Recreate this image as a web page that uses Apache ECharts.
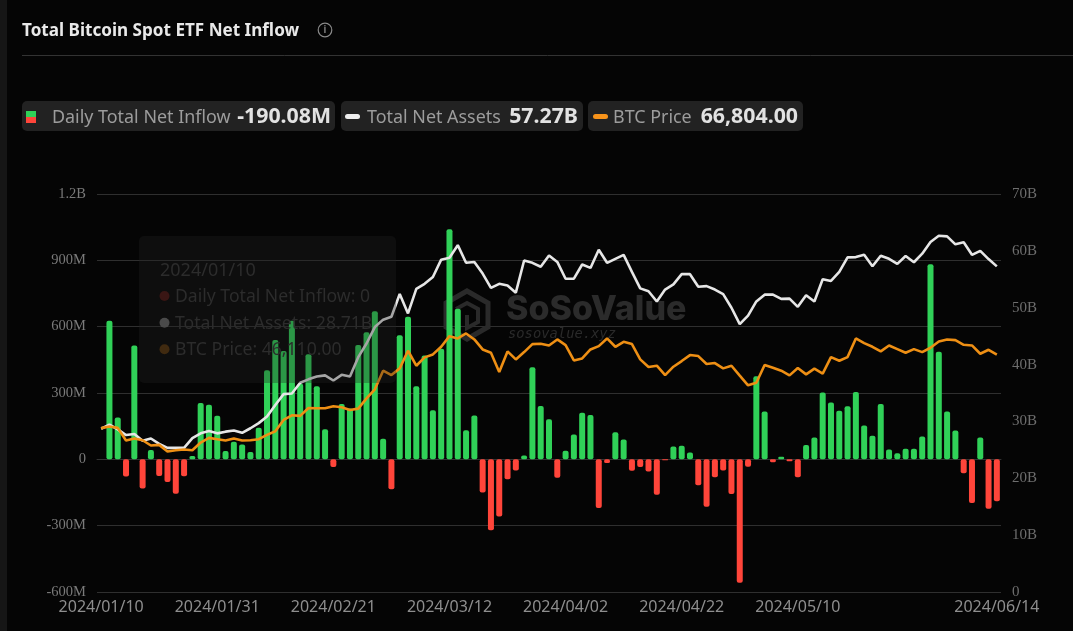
<!DOCTYPE html>
<html><head><meta charset="utf-8">
<style>html,body{margin:0;padding:0;background:#050505;overflow:hidden}#c{width:1073px;height:631px}</style>
<script src="https://cdn.jsdelivr.net/npm/echarts@6/dist/echarts.min.js"></script>
</head><body><div id="c"></div>
<script>
const dates = [
'2024/01/10','2024/01/11','2024/01/12','2024/01/16','2024/01/17','2024/01/18','2024/01/19','2024/01/22','2024/01/23','2024/01/24','2024/01/25','2024/01/26','2024/01/29','2024/01/30','2024/01/31',
'2024/02/01','2024/02/02','2024/02/05','2024/02/06','2024/02/07','2024/02/08','2024/02/09','2024/02/12','2024/02/13','2024/02/14','2024/02/15','2024/02/16','2024/02/20','2024/02/21','2024/02/22','2024/02/23','2024/02/26','2024/02/27','2024/02/28','2024/02/29',
'2024/03/01','2024/03/04','2024/03/05','2024/03/06','2024/03/07','2024/03/08','2024/03/11','2024/03/12','2024/03/13','2024/03/14','2024/03/15','2024/03/18','2024/03/19','2024/03/20','2024/03/21','2024/03/22','2024/03/25','2024/03/26','2024/03/27','2024/03/28',
'2024/04/01','2024/04/02','2024/04/03','2024/04/04','2024/04/05','2024/04/08','2024/04/09','2024/04/10','2024/04/11','2024/04/12','2024/04/15','2024/04/16','2024/04/17','2024/04/18','2024/04/19','2024/04/22','2024/04/23','2024/04/24','2024/04/25','2024/04/26','2024/04/29','2024/04/30',
'2024/05/01','2024/05/02','2024/05/03','2024/05/06','2024/05/07','2024/05/08','2024/05/09','2024/05/10','2024/05/13','2024/05/14','2024/05/15','2024/05/16','2024/05/17','2024/05/20','2024/05/21','2024/05/22','2024/05/23','2024/05/24','2024/05/28','2024/05/29','2024/05/30','2024/05/31',
'2024/06/03','2024/06/04','2024/06/05','2024/06/06','2024/06/07','2024/06/10','2024/06/11','2024/06/12','2024/06/13','2024/06/14'];

const netInflowM = [
0,627,189,-78,515,-132,42,-75,-103,-156,-76,15,255,247,197,38,80,67,33,143,403,540,490,627,342,475,331,136,-35,250,230,517,575,670,93,-135,561,645,331,470,222,500,1041,681,132,198,
-150,-321,-258,-90,-50,17,417,241,181,-83,39,112,211,201,-220,-17,123,90,-52,-35,-55,-160,-4,58,61,31,-117,-214,-81,-50,-157,-558,-33,376,216,-13,12,-9,-81,65,99,302,257,220,240,305,153,107,250,45,28,48,48,103,882,486,216,130,-63,-197,99,-224,-190.08];

const netAssetsB = [
28.71,29.44,28.6,27.6,27.8,26.6,27.0,26.05,25.35,25.35,25.35,27.05,27.9,28.3,27.9,28.2,28.4,28.0,28.8,29.7,30.85,32.9,34.8,34.9,36.8,37.4,37.9,38.1,37.2,38.2,37.9,41.3,43.7,46.6,47.9,48.4,52.4,49.0,53.3,54.2,55.4,58.45,58.8,61,57.9,58.05,
56,53.5,54.2,53.9,52.65,58.3,57.9,57.2,59.2,58.05,55.1,55.1,57.6,57,60.2,57.9,58.6,59.3,56.3,53.4,52.9,51.1,53.2,54.1,55.9,55.9,53.7,53.8,53.2,52.4,50.0,47.1,48.6,51.1,52.3,52.3,51.55,51.6,50.15,52.2,51.1,55,54.7,56.3,58.85,58.9,59.3,57.3,59.15,58.6,57.7,59.1,58,59.5,61.55,62.65,62.55,61.15,61.5,59.3,60,58.55,57.27];

const btcPrice = [
46110,46550,46180,42620,43180,42710,41220,41400,39530,39910,40090,39900,42060,43370,43000,42620,43180,42620,42710,43000,44210,45240,48420,49730,49550,51790,51700,51700,52260,51980,51230,51600,54500,57030,62270,61050,62930,67890,63680,66020,66860,69010,72000,71350,72750,71070,
68260,67320,61900,67700,65450,67510,69760,69850,69380,71070,69480,65170,65730,68260,69200,71350,69010,70410,69760,65450,63300,63680,61050,63400,64990,66670,66390,64150,64430,62930,63680,60870,58150,58900,63860,63110,62270,60960,63020,61240,62840,61430,66110,65080,66110,71350,70040,69010,67700,69380,68350,67320,68350,67510,68730,70500,71070,70880,69570,69380,67040,68160,66804];

const GREEN='#30d158', RED='#ff453a', WHITE='#e6e6e6', ORANGE='#ee8f14';
const sansFont='"Noto Sans", sans-serif', serifFont='"Liberation Serif", serif';
const shownIndexes=[0,14,28,42,56,70,84,108];

const pill=(x,w)=>({type:'rect',z:5,shape:{x,y:101,width:w,height:30,r:5},style:{fill:'#222222'}});
const txt=(x,y,text,size,weight,fill,align,z,font,fontStyle)=>({type:'text',z:z||6,x,y,style:{text,fill,font:`${fontStyle||''} ${weight} ${size}px ${font||sansFont}`.trim(),textAlign:align||'left',textVerticalAlign:'middle'}});
const dash=(x,color)=>({type:'rect',z:6,shape:{x,y:114,width:15,height:5,r:2.5},style:{fill:color}});

const graphics=[
 {type:'rect',z:0,shape:{x:0,y:0,width:7,height:631},style:{fill:'#161616'}},
 txt(22,31,'Total Bitcoin Spot ETF Net Inflow',17.1,700,'#e9e9e9'),
 {type:'circle',z:6,shape:{cx:325,cy:30,r:6.8},style:{fill:'none',stroke:'#8a8a8a',lineWidth:1.2}},
 txt(325,30.5,'i',10,600,'#8a8a8a','center'),
 {type:'line',z:1,shape:{x1:22,y1:55.5,x2:1073,y2:55.5},style:{stroke:'#333333',lineWidth:1}},
 pill(22,313),pill(341,242),pill(588,215),
 {type:'rect',z:6,shape:{x:26,y:111,width:10,height:6},style:{fill:GREEN}},
 {type:'rect',z:6,shape:{x:26,y:117,width:10,height:6},style:{fill:RED}},
 txt(52,118,'Daily Total Net Inflow',17.9,400,'#9c9c9c'),
 txt(331,117,'-190.08M',21.3,700,'#e2e2e2','right'),
 dash(345,'#eeeeee'),
 txt(367,118,'Total Net Assets',17.9,400,'#9c9c9c'),
 txt(578,117,'57.27B',21.3,700,'#e2e2e2','right'),
 dash(593,'#f7931a'),
 txt(613,118,'BTC Price',17.9,400,'#9c9c9c'),
 txt(798,117,'66,804.00',21.3,700,'#e2e2e2','right'),
 // watermark
 {type:'polygon',z:1,shape:{points:[[467,291],[488,303],[488,327],[467,339],[446,327],[446,303]]},style:{fill:'none',stroke:'#2a2a2a',lineWidth:5}},
 {type:'polyline',z:1,shape:{points:[[456,309],[467,303],[478,309],[478,322],[467,328],[467,315]]},style:{fill:'none',stroke:'#2a2a2a',lineWidth:4}},
 txt(506,310,'SoSoValue',34,800,'#2b2b2b','left',1,'Inter, sans-serif'),
 txt(508,334,'sosovalue.xyz',13.8,400,'#2a2a2a','left',1,'"DejaVu Sans Mono", monospace','italic'),
 // faded tooltip left on top of the plot
 {type:'rect',z:100,shape:{x:139,y:236,width:257,height:147,r:5},style:{fill:'rgba(32,32,32,0.33)'}},
 txt(160,271,'2024/01/10',18,400,'#2c2c2c','left',101),
 {type:'circle',z:101,shape:{cx:164.5,cy:296,r:5},style:{fill:'#3a1614'}},
 txt(175,297,'Daily Total Net Inflow: 0',17.6,400,'#2c2c2c','left',101),
 {type:'circle',z:101,shape:{cx:164.5,cy:322.7,r:5},style:{fill:'#4a4a4a'}},
 txt(175,323.7,'Total Net Assets: 28.71B',17.6,400,'#2c2c2c','left',101),
 {type:'circle',z:101,shape:{cx:164.5,cy:349.3,r:5},style:{fill:'#402a10'}},
 txt(175,350.3,'BTC Price: 46,110.00',17.6,400,'#2c2c2c','left',101)
];

const chart=echarts.init(document.getElementById('c'),null,{renderer:'canvas'});
chart.setOption({
 animation:false,
 backgroundColor:'#050505',
 grid:{left:97,right:72,top:194,bottom:39,containLabel:false},
 xAxis:{type:'category',data:dates,boundaryGap:true,
  axisLine:{onZero:true,lineStyle:{color:'#333333'}},axisTick:{show:false},
  axisLabel:{color:'#8e8e8e',fontFamily:sansFont,fontSize:16,margin:7,showMinLabel:true,showMaxLabel:true,hideOverlap:false,
   interval:(i)=>shownIndexes.includes(i)}},
 yAxis:[
  {type:'value',min:-600,max:1200,interval:300,
   splitLine:{lineStyle:{color:'#2f2f2f',width:1}},axisLine:{show:false},axisTick:{show:false},
   axisLabel:{color:'#7a7a7a',fontFamily:serifFont,fontSize:14.5,margin:11,padding:[0,0,3,0],formatter:(v)=>v>=1000?(v/1000)+'B':v===0?'0':v+'M'}},
  {type:'value',position:'right',min:0,max:70,interval:10,
   splitLine:{show:false},axisLine:{show:false},axisTick:{show:false},
   axisLabel:{color:'#6e6e6e',fontFamily:serifFont,fontSize:15,margin:11,padding:[0,0,3,0],formatter:(v)=>v===0?'0':v+'B'}},
  {type:'value',show:false,min:0,max:112000,splitLine:{show:false}}
 ],
 series:[
  {name:'Daily Total Net Inflow',type:'bar',yAxisIndex:0,barWidth:6,z:2,data:netInflowM,
   itemStyle:{borderRadius:2,color:(p)=>p.value>=0?GREEN:RED}},
  {name:'Total Net Assets',type:'line',yAxisIndex:1,data:netAssetsB,symbol:'none',z:3,lineStyle:{color:WHITE,width:2.6}},
  {name:'BTC Price',type:'line',yAxisIndex:2,data:btcPrice,symbol:'none',z:4,lineStyle:{color:ORANGE,width:2.6}}
 ],
 graphic:{elements:graphics}
});
</script></body></html>
